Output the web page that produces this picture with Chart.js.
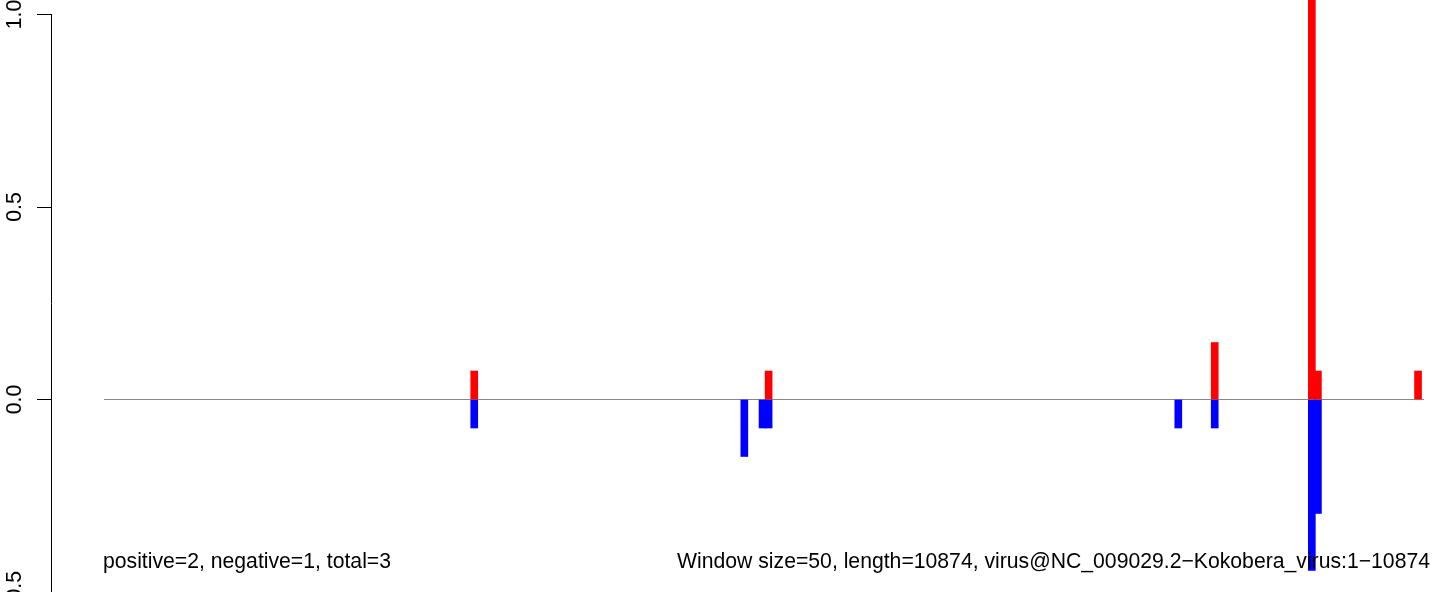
<!DOCTYPE html>
<html><head><meta charset="utf-8">
<script src="https://cdn.jsdelivr.net/npm/chart.js@4/dist/chart.umd.min.js"></script>
<style>html,body{margin:0;padding:0;background:#fff;overflow:hidden}#wrap{width:1436px;height:592px;position:relative}</style>
</head><body><div id="wrap"><canvas id="c" width="1436" height="592"></canvas></div>
<script>
// ---- data ----
const sequenceLength = 10874;
const windowPositions = [3050, 5275, 5425, 5475, 8850, 9150, 9950, 10000, 10825];
const positiveValues  = [0.074, 0, 0, 0.074, 0, 0.148, 1.11, 0.074, 0.074];
const negativeValues  = [-0.074, -0.148, -0.074, -0.074, -0.074, -0.074, -0.444, -0.296, 0];
const yTickValues = [-0.5, 0, 0.5, 1.0];
const yTickLabels = ['\u22120.5', '0.0', '0.5', '1.0'];
const leftNote = 'positive=2, negative=1, total=3';
const rightNote = 'Window size=50, length=10874, virus@NC_009029.2\u2212Kokobera_virus:1\u221210874';

const posData = windowPositions.map((x,i)=>({x, y: positiveValues[i]})).filter(d=>d.y!==0);
const negData = windowPositions.map((x,i)=>({x, y: negativeValues[i]})).filter(d=>d.y!==0);

const FONT = '21.2px "Liberation Sans", Arial, Helvetica, sans-serif';

const textPlugin = {
  id: 'rtext',
  afterDraw(chart) {
    const ctx = chart.ctx;
    const ys = chart.scales.y;
    ctx.save();
    ctx.fillStyle = '#000';
    ctx.font = FONT;
    ctx.textBaseline = 'alphabetic';
    ctx.textAlign = 'left';
    ctx.fillText(leftNote, 103, 568);
    ctx.textAlign = 'right';
    ctx.fillText(rightNote, 1430, 568);
    ys.ticks.forEach((t, i) => {
      const py = ys.getPixelForValue(t.value);
      ctx.save();
      ctx.translate(21, py);
      ctx.rotate(-Math.PI / 2);
      ctx.textAlign = 'center';
      ctx.fillText(yTickLabels[yTickValues.indexOf(t.value)], 0, 0);
      ctx.restore();
    });
    ctx.restore();
  }
};

new Chart(document.getElementById('c'), {
  type: 'bar',
  data: {
    datasets: [
      { type: 'line', data: [{x: 0, y: 0}, {x: sequenceLength, y: 0}], borderColor: '#888888', borderWidth: 1, pointRadius: 0, order: 3 },
      { label: 'positive', data: posData, backgroundColor: '#ff0000', barThickness: 7, grouped: false, clip: false, order: 1 },
      { label: 'negative', data: negData, backgroundColor: '#0000ff', barThickness: 7, grouped: false, clip: false, order: 1 }
    ]
  },
  options: {
    responsive: false,
    animation: false,
    events: [],
    layout: { padding: { top: 14.5, right: 0, bottom: 0, left: 0 } },
    plugins: { legend: { display: false }, tooltip: { enabled: false } },
    scales: {
      x: { type: 'linear', min: -436.6, max: 10972.9, offset: false, display: false, grid: { offset: false } },
      y: {
        min: -0.5, max: 1.0,
        afterFit(s) { s.width = 51; },
        afterBuildTicks(s) { s.ticks = yTickValues.map(v => ({ value: v })); },
        grid: { drawOnChartArea: false, drawTicks: true, tickLength: 14, color: '#000', lineWidth: 1 },
        border: { display: true, color: '#000', width: 1 },
        ticks: { display: false }
      }
    }
  },
  plugins: [textPlugin]
});
</script>
</body></html>
